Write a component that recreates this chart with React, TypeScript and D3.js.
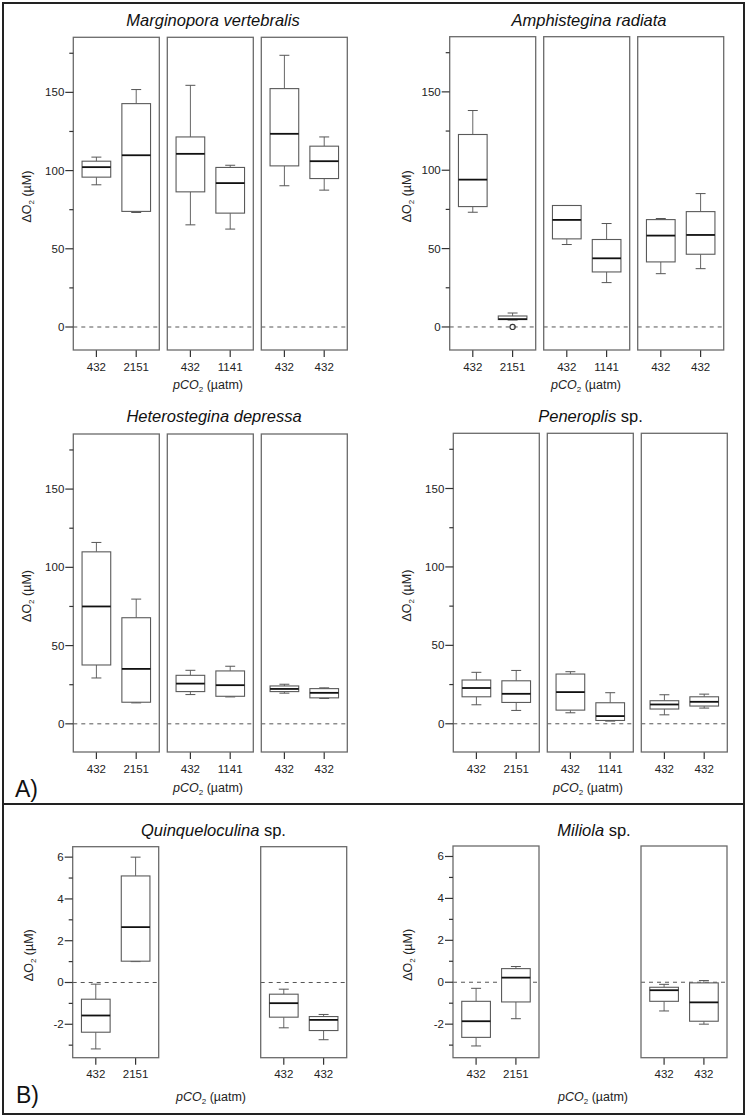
import React from "react";
import * as d3 from "d3";

// ---- Data (box stats: [lower whisker, Q1, median, Q3, upper whisker]) ----
const pco2Labels = ["432", "2151", "432", "1141", "432", "432"];

const marginoporaStats = [
  [90.9, 95.8, 102.2, 106.0, 108.6],
  [73.2, 73.9, 109.8, 142.8, 151.8],
  [65.3, 86.4, 110.7, 121.5, 154.5],
  [62.6, 72.8, 92.0, 102.0, 103.4],
  [90.3, 103.0, 123.5, 152.4, 173.7],
  [87.5, 94.9, 106.0, 115.6, 121.5],
];
const amphisteginaStats = [
  [73.2, 76.8, 94.0, 122.8, 138.1],
  [4.4, 4.7, 5.0, 7.0, 8.9],
  [52.6, 56.2, 68.3, 77.5, 77.5],
  [28.3, 35.1, 43.8, 55.8, 66.0],
  [34.0, 41.5, 58.3, 68.5, 69.2],
  [37.2, 46.4, 58.7, 73.6, 85.1],
];
const amphisteginaOutliers = [{ index: 1, value: 0 }];
const heterosteginaStats = [
  [29.3, 37.6, 75.0, 109.9, 115.9],
  [13.4, 13.8, 35.1, 67.8, 79.7],
  [18.7, 20.6, 25.7, 31.0, 34.2],
  [17.2, 17.6, 24.7, 33.8, 36.8],
  [19.6, 20.6, 22.3, 24.2, 25.3],
  [16.2, 16.6, 19.8, 22.5, 23.0],
];
const peneroplisStats = [
  [12.1, 17.2, 22.8, 27.9, 32.8],
  [8.5, 13.6, 19.1, 27.4, 34.0],
  [7.0, 8.7, 20.2, 31.7, 33.2],
  [1.7, 2.1, 4.9, 13.4, 19.8],
  [5.7, 9.4, 12.3, 14.7, 18.5],
  [10.0, 11.3, 14.0, 17.2, 18.9],
];
const quinqueloculinaStats = [
  [-3.18, -2.38, -1.58, -0.8, -0.08],
  [1.0, 1.02, 2.65, 5.1, 6.0],
  null,
  null,
  [-2.17, -1.66, -0.99, -0.56, -0.32],
  [-2.74, -2.3, -1.79, -1.63, -1.53],
];
const miliolaStats = [
  [-3.04, -2.63, -1.86, -0.91, -0.29],
  [-1.74, -0.94, 0.22, 0.65, 0.75],
  null,
  null,
  [-1.37, -0.91, -0.38, -0.24, -0.1],
  [-2.0, -1.86, -0.96, -0.03, 0.08],
];

const bigMajorTicks = [0, 50, 100, 150];
const bigMinorTicks = [25, 75, 125, 175];
const smallMajorTicks = [-2, 0, 2, 4, 6];
const smallMinorTicks = [-3, -1, 1, 3, 5];

const FONT = "'Liberation Sans', Arial, Helvetica, sans-serif";
const PANEL_W = 86;
const PANEL_STEP = 94;

type PlotProps = {
  italic: string;
  plain?: string;
  stats: (number[] | null)[];
  outliers?: { index: number; value: number }[];
  left: number;
  top: number;
  bottom: number;
  domain: [number, number];
  major: number[];
  minor: number[];
  panelsShown: boolean[];
  titleY: number;
  titleX: number;
  xTitleY: number;
  xTitleX: number;
  yTitleX: number;
};

function Plot(p: PlotProps) {
  const y = d3.scaleLinear().domain(p.domain).range([p.bottom, p.top]);
  const yTitleY = (p.top + p.bottom) / 2 + 3;
  const panels = [0, 1, 2];
  return (
    <g>
      <text x={p.titleX} y={p.titleY} textAnchor="middle" fontSize={16.5} fill="#111" fontFamily={FONT}>
        <tspan fontStyle="italic">{p.italic}</tspan>
        {p.plain ? <tspan>{" " + p.plain}</tspan> : null}
      </text>
      {panels.map((pi) => {
        if (!p.panelsShown[pi]) return null;
        const pl = p.left + pi * PANEL_STEP;
        const x = d3.scaleLinear().domain([0.42, 2.58]).range([pl, pl + PANEL_W]);
        return (
          <g key={pi}>
            <line x1={pl} x2={pl + PANEL_W} y1={y(0)} y2={y(0)} stroke="#555" strokeWidth={1} strokeDasharray="4,4" />
            {[0, 1].map((bi) => {
              const idx = pi * 2 + bi;
              const s = p.stats[idx];
              const cx = x(bi + 1);
              const hw = x(bi + 1 + 0.36) - cx;
              const sw = x(bi + 1 + 0.125) - cx;
              return (
                <g key={bi}>
                  <line x1={cx} x2={cx} y1={p.bottom} y2={p.bottom + 7} stroke="#333" strokeWidth={1.2} />
                  <text x={cx} y={p.bottom + 20.5} textAnchor="middle" fontSize={11.5} fill="#222" fontFamily={FONT}>
                    {pco2Labels[idx]}
                  </text>
                  {s ? (
                    <g>
                      <line x1={cx} x2={cx} y1={y(s[3])} y2={y(s[4])} stroke="#666" strokeWidth={1} />
                      <line x1={cx} x2={cx} y1={y(s[1])} y2={y(s[0])} stroke="#666" strokeWidth={1} />
                      <line x1={cx - sw} x2={cx + sw} y1={y(s[4])} y2={y(s[4])} stroke="#555" strokeWidth={1} />
                      <line x1={cx - sw} x2={cx + sw} y1={y(s[0])} y2={y(s[0])} stroke="#555" strokeWidth={1} />
                      <rect x={cx - hw} y={y(s[3])} width={2 * hw} height={Math.max(0.5, y(s[1]) - y(s[3]))} fill="white" stroke="#5a5a5a" strokeWidth={1.1} />
                      <line x1={cx - hw} x2={cx + hw} y1={y(s[2])} y2={y(s[2])} stroke="#111" strokeWidth={1.8} />
                    </g>
                  ) : null}
                  {(p.outliers || [])
                    .filter((o) => o.index === idx)
                    .map((o, k) => (
                      <circle key={k} cx={cx} cy={y(o.value)} r={2.6} fill="none" stroke="#333" strokeWidth={1.1} />
                    ))}
                </g>
              );
            })}
            <rect x={pl} y={p.top} width={PANEL_W} height={p.bottom - p.top} fill="none" stroke="#6a6a6a" strokeWidth={1.3} />
          </g>
        );
      })}
      {p.major.map((t) => (
        <g key={"M" + t}>
          <line x1={p.left - 8} x2={p.left} y1={y(t)} y2={y(t)} stroke="#333" strokeWidth={1.2} />
          <text x={p.left - 9} y={y(t) + 4} textAnchor="end" fontSize={11.5} fill="#222" fontFamily={FONT}>
            {t}
          </text>
        </g>
      ))}
      {p.minor.map((t) => (
        <line key={"m" + t} x1={p.left - 4} x2={p.left} y1={y(t)} y2={y(t)} stroke="#333" strokeWidth={1.2} />
      ))}
      <text
        transform={`translate(${p.yTitleX},${yTitleY}) rotate(-90)`}
        textAnchor="middle"
        fontSize={12.5}
        fill="#222"
        fontFamily={FONT}
      >
        <tspan>ΔO</tspan>
        <tspan fontSize={8} dy={3}>2</tspan>
        <tspan dy={-3}> (µM)</tspan>
      </text>
      <text x={p.xTitleX} y={p.xTitleY} textAnchor="middle" fontSize={12.5} fill="#222" fontFamily={FONT}>
        <tspan fontStyle="italic">pCO</tspan>
        <tspan fontSize={8} dy={3}>2</tspan>
        <tspan dy={-3}> (µatm)</tspan>
      </text>
    </g>
  );
}

export default function App() {
  const bigTop: [number, number] = [-14.7, 185.2];
  const bigMid: [number, number] = [-18, 185.2];
  const small: [number, number] = [-3.6, 6.5];
  const all3 = [true, true, true];
  const two = [true, false, true];
  return (
    <svg width={748} height={1119} style={{ position: "absolute", left: 0, top: 0, background: "white" }}>
      <rect x={0} y={0} width={748} height={1119} fill="white" />
      <rect x={3} y={3} width={741} height={1111} fill="none" stroke="#222" strokeWidth={2} />
      <line x1={3} x2={744} y1={804} y2={804} stroke="#222" strokeWidth={2} />

      <Plot italic="Marginopora vertebralis" stats={marginoporaStats} left={73.3} top={37.3} bottom={350}
        domain={bigTop} major={bigMajorTicks} minor={bigMinorTicks} panelsShown={all3}
        titleX={213} titleY={26} xTitleX={208} xTitleY={389} yTitleX={31} />
      <Plot italic="Amphistegina radiata" stats={amphisteginaStats} outliers={amphisteginaOutliers} left={449.7} top={36.7} bottom={350}
        domain={bigTop} major={bigMajorTicks} minor={bigMinorTicks} panelsShown={all3}
        titleX={589} titleY={26} xTitleX={586} xTitleY={389} yTitleX={411} />
      <Plot italic="Heterostegina depressa" stats={heterosteginaStats} left={73.3} top={434} bottom={752}
        domain={bigMid} major={bigMajorTicks} minor={bigMinorTicks} panelsShown={all3}
        titleX={214} titleY={421.5} xTitleX={208} xTitleY={792} yTitleX={31} />
      <Plot italic="Peneroplis" plain="sp." stats={peneroplisStats} left={453.3} top={433.3} bottom={752}
        domain={bigMid} major={bigMajorTicks} minor={bigMinorTicks} panelsShown={all3}
        titleX={590.5} titleY={421.5} xTitleX={588} xTitleY={792} yTitleX={411} />
      <Plot italic="Quinqueloculina" plain="sp." stats={quinqueloculinaStats} left={72.7} top={846.7} bottom={1057.7}
        domain={small} major={smallMajorTicks} minor={smallMinorTicks} panelsShown={two}
        titleX={213.5} titleY={836} xTitleX={211} xTitleY={1100.5} yTitleX={33} />
      <Plot italic="Miliola" plain="sp." stats={miliolaStats} left={453} top={846} bottom={1057.7}
        domain={small} major={smallMajorTicks} minor={smallMinorTicks} panelsShown={two}
        titleX={594} titleY={836} xTitleX={593} xTitleY={1100.5} yTitleX={412} />

      <text x={15} y={797} fontSize={23} fill="#111" fontFamily={FONT}>A)</text>
      <text x={16} y={1103} fontSize={23} fill="#111" fontFamily={FONT}>B)</text>
    </svg>
  );
}
